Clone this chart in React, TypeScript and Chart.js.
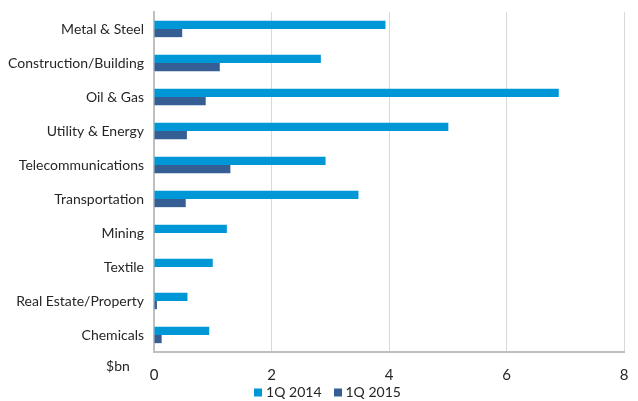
import React, { useEffect, useRef } from "react";
import { Chart, registerables } from "chart.js";

Chart.register(...registerables);

const categories = [
  "Metal & Steel",
  "Construction/Building",
  "Oil & Gas",
  "Utility & Energy",
  "Telecommunications",
  "Transportation",
  "Mining",
  "Textile",
  "Real Estate/Property",
  "Chemicals",
];
const q2014 = [3.94, 2.84, 6.89, 5.01, 2.92, 3.48, 1.24, 1.0, 0.57, 0.94];
const q2015 = [0.48, 1.12, 0.88, 0.56, 1.3, 0.54, 0, 0, 0.05, 0.13];
const xTicks = [0, 2, 4, 6, 8];
const unitLabel = "$bn";

const FONT = "Lato";
const TEXT = "#262626";

const unitPlugin = {
  id: "unitLabel",
  afterDraw(chart: any) {
    const { ctx, chartArea } = chart;
    ctx.save();
    ctx.font = `14px ${FONT}`;
    ctx.fillStyle = TEXT;
    ctx.textAlign = "center";
    ctx.textBaseline = "middle";
    ctx.fillText(unitLabel, chartArea.left - 36, chartArea.bottom + 14);
    ctx.restore();
  },
};

const legendPlugin = {
  id: "customLegend",
  afterDraw(chart: any) {
    const { ctx } = chart;
    const ds = chart.data.datasets;
    ctx.save();
    ctx.font = `14px ${FONT}`;
    ctx.textBaseline = "middle";
    ctx.textAlign = "left";
    const box = 8;
    const gap = 4;
    const spacing = 12;
    const widths = ds.map((d: any) => box + gap + ctx.measureText(d.label).width);
    const total = widths.reduce((a: number, b: number) => a + b, 0) + spacing * (ds.length - 1);
    let x = 327.5 - total / 2;
    const cy = 392.5;
    ds.forEach((d: any, i: number) => {
      ctx.fillStyle = d.backgroundColor;
      ctx.fillRect(Math.round(x), cy - box / 2, box, box);
      ctx.fillStyle = TEXT;
      ctx.fillText(d.label, x + box + gap, cy);
      x += widths[i] + spacing;
    });
    ctx.restore();
  },
};

export default function App() {
  const ref = useRef<HTMLCanvasElement | null>(null);
  useEffect(() => {
    if (!ref.current) return;
    const chart = new Chart(ref.current, {
      type: "bar",
      data: {
        labels: categories,
        datasets: [
          {
            label: "1Q 2014",
            data: q2014,
            backgroundColor: "#0097D7",
            borderWidth: 0,
            barPercentage: 1,
            categoryPercentage: 0.48,
          },
          {
            label: "1Q 2015",
            data: q2015,
            backgroundColor: "#355F94",
            borderWidth: 0,
            barPercentage: 1,
            categoryPercentage: 0.48,
          },
        ],
      },
      options: {
        indexAxis: "y",
        animation: false,
        responsive: false,
        maintainAspectRatio: false,
        layout: { padding: { left: 0, right: 14, top: 12, bottom: 0 } },
        scales: {
          x: {
            min: 0,
            max: 8,
            afterBuildTicks: (s: any) => {
              s.ticks = xTicks.map((v) => ({ value: v }));
            },
            afterFit: (s: any) => {
              s.height = 49;
              s.paddingLeft = 0;
              s.paddingRight = 0;
            },
            grid: { color: "#D9D9D9", lineWidth: 1, drawTicks: false },
            border: { display: true, color: "#BFBFBF", width: 2 },
            ticks: {
              padding: 14,
              color: TEXT,
              font: { family: FONT, size: 15 },
            },
          },
          y: {
            afterFit: (s: any) => {
              s.width = 154;
              s.paddingTop = 0;
              s.paddingBottom = 0;
            },
            grid: { display: false, drawTicks: false },
            border: { display: true, color: "#BFBFBF", width: 2 },
            ticks: {
              padding: 10,
              color: TEXT,
              font: { family: FONT, size: 14 },
            },
          },
        },
        plugins: {
          legend: { display: false },
          tooltip: { enabled: false },
        },
      },
      plugins: [unitPlugin, legendPlugin],
    });
    return () => chart.destroy();
  }, []);
  return (
    <div style={{ position: "fixed", left: 0, top: 0, width: 638, height: 401, background: "#fff" }}>
      <canvas ref={ref} width={638} height={401} style={{ width: 638, height: 401 }} />
    </div>
  );
}
